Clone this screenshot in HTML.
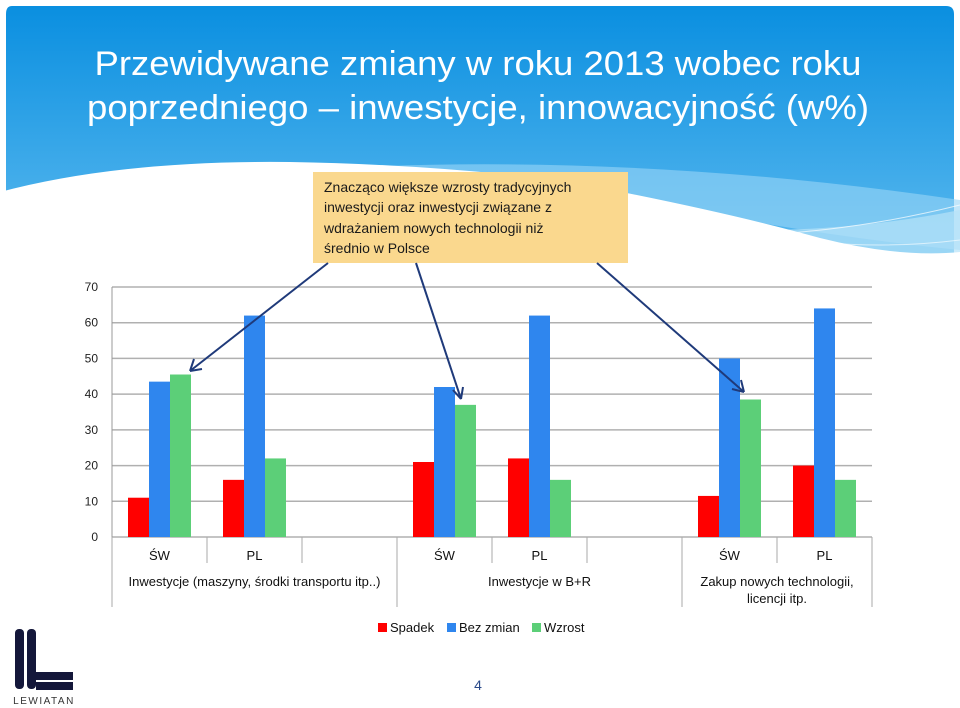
<!DOCTYPE html>
<html><head><meta charset="utf-8">
<style>
html,body{margin:0;padding:0;background:#fff;}
body{width:960px;height:708px;overflow:hidden;position:relative;font-family:"Liberation Sans",sans-serif;}
</style></head>
<body>
<svg id="slide" width="960" height="708" viewBox="0 0 960 708" xmlns="http://www.w3.org/2000/svg" style="position:absolute;left:0;top:0">
<defs>
<linearGradient id="bg" x1="0" y1="0" x2="0" y2="1">
<stop offset="0" stop-color="#0a8fe0"/><stop offset="1" stop-color="#62bdf0"/>
</linearGradient>
</defs>
<g>
<path d="M12,6 Q6,6 6,14 L6,280 L954,280 L954,14 Q954,6 946,6 Z" fill="url(#bg)"/>
<path d="M300,170 Q620,150 960,200 L960,250 Q760,230 520,175 Z" fill="#9ad6f6" opacity="0.6"/>
<path d="M560,210 Q760,250 960,210 L960,280 L600,280 Z" fill="#b7e2f8" opacity="0.7"/>
<path d="M0,192 Q120,160 290,162 Q420,164 560,180 Q720,210 820,238 Q900,258 960,252 L960,290 L0,290 Z" fill="#fff"/>
<path d="M600,230 Q780,250 960,205" stroke="#fff" stroke-width="1" fill="none" opacity="0.7"/>
<path d="M640,200 Q800,260 960,240" stroke="#fff" stroke-width="1" fill="none" opacity="0.6"/>
</g>
<g fill="#fff" font-size="34" text-anchor="middle">
<text x="478" y="75" textLength="767" lengthAdjust="spacingAndGlyphs">Przewidywane zmiany w roku 2013 wobec roku</text>
<text x="478" y="119" textLength="782" lengthAdjust="spacingAndGlyphs">poprzedniego – inwestycje, innowacyjność (w%)</text>
</g>
<g>
<rect x="313" y="172" width="315" height="91" fill="#fad88e"/>
<g fill="#1a1a1a" font-size="14">
<text x="324" y="192">Znacząco większe wzrosty tradycyjnych</text>
<text x="324" y="212">inwestycji oraz inwestycji związane z</text>
<text x="324" y="233">wdrażaniem nowych technologii niż</text>
<text x="324" y="253">średnio w Polsce</text>
</g>
</g>
<g id="chart"></g>
<g stroke="#1f3a7a" stroke-width="2" fill="none">
<line x1="328" y1="263" x2="190" y2="371"/><path d="M190,371 l4,-12 M190,371 l12,-2"/>
<line x1="416" y1="263" x2="461" y2="399"/><path d="M461,399 l-8,-9 M461,399 l2,-12"/>
<line x1="597" y1="263" x2="744" y2="392"/><path d="M744,392 l-12,-3 M744,392 l-3,-12"/>
</g>
<g font-size="13" fill="#111">
<rect x="378" y="623" width="9" height="9" fill="#ff0000"/><text x="390" y="632">Spadek</text>
<rect x="447" y="623" width="9" height="9" fill="#2f86ee"/><text x="459" y="632">Bez zmian</text>
<rect x="532" y="623" width="9" height="9" fill="#5ccf78"/><text x="544" y="632">Wzrost</text>
</g>
<text x="478" y="690" font-size="14" fill="#2a4a8a" text-anchor="middle">4</text>
<g fill="#14173a">
<rect x="15" y="629" width="9" height="60" rx="4"/>
<rect x="27" y="629" width="9" height="60" rx="4"/>
<path d="M27,672 L73,672 L73,680 L36,680 Z"/>
<path d="M36,682 L73,682 L73,690 L36,690 Z"/>
<text x="44" y="704" font-size="10" fill="#333" text-anchor="middle" letter-spacing="1.5">LEWIATAN</text>
</g>
</svg>
<script>
const categories = ["ŚW","PL","","ŚW","PL","","ŚW","PL"];
const spadek = [11, 16, null, 21, 22, null, 11.5, 20];
const bezZmian = [43.5, 62, null, 42, 62, null, 50, 64];
const wzrost = [45.5, 22, null, 37, 16, null, 38.5, 16];
const yTicks = [0,10,20,30,40,50,60,70];
const groupLabels = [["Inwestycje (maszyny, środki transportu itp..)"],["Inwestycje w B+R"],["Zakup nowych technologii,","licencji itp."]];

const NS="http://www.w3.org/2000/svg";
const g=document.getElementById('chart');
const x0=112, x1=872, y0=537, yTop=287, yMax=70;
const slot=(x1-x0)/categories.length;
const y=v=>y0-(v/yMax)*(y0-yTop);
function mk(t,a){const e=document.createElementNS(NS,t);for(const k in a)e.setAttribute(k,a[k]);g.appendChild(e);return e;}
yTicks.forEach(t=>{
  const l=mk('line',{x1:x0,x2:x1,y1:y(t),y2:y(t),stroke:'#b0b0b0','stroke-width':1.5});
  
  
  const tx=mk('text',{x:x0-14,y:y(t)+4,'font-size':12,fill:'#222','text-anchor':'end'});
  tx.textContent=t;
  
  
});
const ax=mk('line',{x1:x0,x2:x0,y1:yTop,y2:y0,stroke:'#999'});


const series=[[spadek,'#ff0000','spadek'],[bezZmian,'#2f86ee','bez-zmian'],[wzrost,'#5ccf78','wzrost']];
const bw=21, off=(slot-3*bw)/2;
categories.forEach((c,i)=>{
  series.forEach((s,j)=>{
    const v=s[0][i]; if(v==null) return;
    const r=mk('rect',{x:x0+i*slot+off+j*bw,y:y(v),width:bw,height:y0-y(v),fill:s[1]});
    
    
  });
  if(c){const t=mk('text',{x:x0+i*slot+slot/2,y:560,'font-size':13,fill:'#111','text-anchor':'middle'});
    t.textContent=c;
    
    }
  if(i>0){const major=(i%3===0);
    const l=mk('line',{x1:x0+i*slot,x2:x0+i*slot,y1:y0,y2:major?607:563,stroke:'#aaa'});
    
    }
});
[x0,x1].forEach(xx=>{const l=mk('line',{x1:xx,x2:xx,y1:y0,y2:607,stroke:'#aaa'});
  
  });
groupLabels.forEach((lines,k)=>{
  const start=x0+k*3*slot, end=Math.min(x1,start+3*slot-(k<2?slot:0));
  const cx=k<2?(x0+k*3*slot+(x0+(k*3+3)*slot))/2:(start+x1)/2;
  lines.forEach((ln,m)=>{const t=mk('text',{x:cx,y:586+m*17,'font-size':13,fill:'#111','text-anchor':'middle'});
    t.textContent=ln;
    
    });
});
</script>
</body></html>
